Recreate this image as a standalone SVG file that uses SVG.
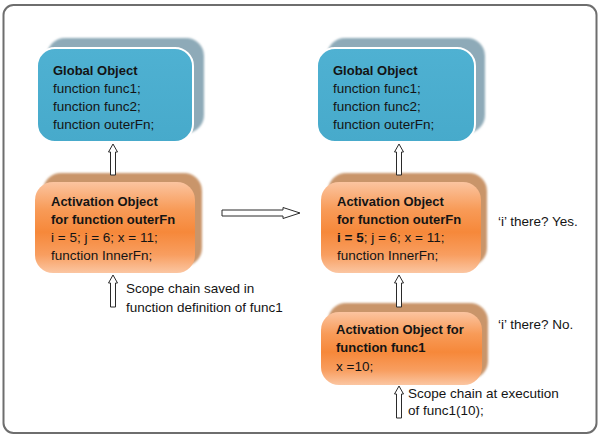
<svg xmlns="http://www.w3.org/2000/svg" width="602" height="440" viewBox="0 0 602 440">
<style>
text{font-family:"Liberation Sans",Arial,sans-serif;font-size:13.5px;fill:#141414}
.b{font-weight:bold;font-size:13px}
.bshadow{fill:#8eaab8}
.oshadow{fill:#c9956b}
.blue{fill:url(#gb);stroke:#ffffff;stroke-width:2}
.orange{fill:url(#go)}
.arr{fill:#ffffff;stroke:#2a2a2a;stroke-width:1}
</style>
<defs>
<linearGradient id="gb" x1="0" y1="0" x2="0" y2="1">
<stop offset="0" stop-color="#4fb1d2"/>
<stop offset="1" stop-color="#47aacb"/>
</linearGradient>
<linearGradient id="go" x1="0" y1="0" x2="0" y2="1">
<stop offset="0" stop-color="#fbc4a0"/>
<stop offset="0.3" stop-color="#f89b58"/>
<stop offset="0.55" stop-color="#f6883a"/>
<stop offset="0.8" stop-color="#f89e60"/>
<stop offset="1" stop-color="#fbc6a2"/>
</linearGradient>
<filter id="soft" x="-10%" y="-10%" width="120%" height="120%">
<feGaussianBlur stdDeviation="1.2"/>
</filter>
</defs>
<rect x="3.5" y="5" width="593" height="428" rx="10" fill="#ffffff" stroke="#6e6e6e" stroke-width="2"/>

<g id="global-left">
<rect class="bshadow" x="47" y="38" width="157" height="95" rx="18" filter="url(#soft)"/>
<rect class="blue" x="37" y="48" width="156" height="94" rx="18"/>
<text x="53" y="75" class="b">Global Object</text>
<text x="53" y="93">function func1;</text>
<text x="53" y="111">function func2;</text>
<text x="53" y="129">function outerFn;</text>
</g>

<g id="activation-left">
<rect class="oshadow" x="43" y="173" width="159" height="93" rx="18" filter="url(#soft)"/>
<rect class="orange" x="35" y="182" width="160" height="91" rx="18"/>
<text x="51" y="206" class="b">Activation Object</text>
<text x="51" y="224" class="b">for function outerFn</text>
<text x="51" y="242">i = 5; j = 6; x = 11;</text>
<text x="51" y="260">function InnerFn;</text>
</g>

<g id="global-right">
<rect class="bshadow" x="327" y="38" width="158" height="95" rx="18" filter="url(#soft)"/>
<rect class="blue" x="317" y="48" width="158" height="94" rx="18"/>
<text x="333" y="75" class="b">Global Object</text>
<text x="333" y="93">function func1;</text>
<text x="333" y="111">function func2;</text>
<text x="333" y="129">function outerFn;</text>
</g>

<g id="activation-right">
<rect class="oshadow" x="328" y="173" width="159" height="93" rx="18" filter="url(#soft)"/>
<rect class="orange" x="321" y="182" width="160" height="91" rx="18"/>
<text x="337" y="206" class="b">Activation Object</text>
<text x="337" y="224" class="b">for function outerFn</text>
<text x="337" y="242"><tspan font-weight="bold">i = 5</tspan>; j = 6; x = 11;</text>
<text x="337" y="260">function InnerFn;</text>
</g>

<g id="activation-func1">
<rect class="oshadow" x="328" y="303" width="160" height="76" rx="18" filter="url(#soft)"/>
<rect class="orange" x="321" y="312" width="161" height="73" rx="18"/>
<text x="336" y="334" class="b">Activation Object for</text>
<text x="336" y="352" class="b">function func1</text>
<text x="336" y="371">x =10;</text>
</g>

<g id="connectors">
<path class="arr" d="M113,144 L117.5,152 L115.5,152 L115.5,175 L110.5,175 L110.5,152 L108.5,152 Z"/>
<path class="arr" d="M113,275 L117.5,283 L115.5,283 L115.5,307 L110.5,307 L110.5,283 L108.5,283 Z"/>
<path class="arr" d="M222,210 L283,210 L283,207.5 L300,213 L283,218.5 L283,216 L222,216 Z"/>
<path class="arr" d="M399,144 L403.5,152 L401.5,152 L401.5,175 L396.5,175 L396.5,152 L394.5,152 Z"/>
<path class="arr" d="M399,275 L403.5,283 L401.5,283 L401.5,307 L396.5,307 L396.5,283 L394.5,283 Z"/>
<path class="arr" d="M399,386 L403.5,394 L401.5,394 L401.5,418 L396.5,418 L396.5,394 L394.5,394 Z"/>
</g>

<g id="labels">
<text x="126" y="293">Scope chain saved in</text>
<text x="126" y="312">function definition of func1</text>
<text x="498" y="226">‘i’ there? Yes.</text>
<text x="498" y="329">‘i’ there? No.</text>
<text x="408" y="398">Scope chain at execution</text>
<text x="408" y="415">of func1(10);</text>
</g>
</svg>
